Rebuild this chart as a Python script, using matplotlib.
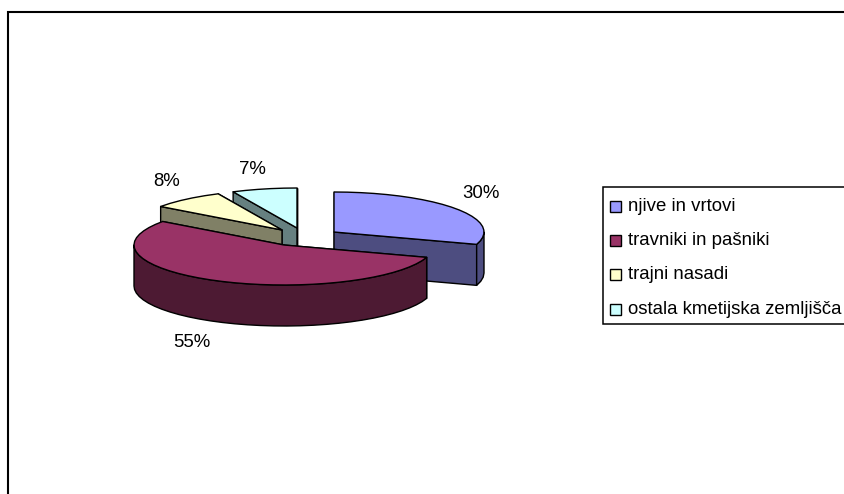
import numpy as np
import matplotlib
matplotlib.use('Agg')
import matplotlib.pyplot as plt
from matplotlib.patches import Polygon, Rectangle

plt.rcParams['font.family'] = ['Liberation Sans', 'DejaVu Sans']

categories = ['njive in vrtovi', 'travniki in pašniki', 'trajni nasadi', 'ostala kmetijska zemljišča']
values = [30, 55, 8, 7]
labels = ['30%', '55%', '8%', '7%']

top_colors = ['#9999ff', '#993366', '#ffffcc', '#ccffff']
side_colors = ['#4d4d80', '#4d1a33', '#808066', '#668080']

# pie layout in pixels
center = (300, 237)
rx, ry, depth = 150, 40, 41
offsets = [(34, -5), (-16, 8), (-18, -7), (-3, -9)]
label_pos = [(481, 193), (192, 342), (167, 181), (252, 169)]
draw_order = [3, 2, 0, 1]

W, H = 845, 494
fig = plt.figure(figsize=(W / 100, H / 100), dpi=100)
ax = fig.add_axes([0, 0, 1, 1])
ax.set_xlim(0, W)
ax.set_ylim(H, 0)
ax.axis('off')

# chart frame runs off the image on the right and bottom
ax.add_patch(Rectangle((8, 12), W, H, fc='white', ec='black', lw=1.5))


def rim(ox, oy, a0, a1):
    n = max(2, int(abs(a1 - a0) / 5) + 1)
    t = np.radians(np.linspace(a0, a1, n))
    return np.column_stack([ox + rx * np.sin(t), oy - ry * np.cos(t)])


fractions = np.array(values) / sum(values) * 360
starts = np.concatenate([[0], np.cumsum(fractions)[:-1]])

for i in draw_order:
    a0, a1 = starts[i], starts[i] + fractions[i]
    ox, oy = center[0] + offsets[i][0], center[1] + offsets[i][1]
    down = np.array([0, depth])
    edge_kw = dict(ec='black', lw=1.0, joinstyle='round')

    # radial side walls, far one first so the near one covers it
    for ang in sorted((a0, a1), key=lambda a: -np.cos(np.radians(a))):
        p = rim(ox, oy, ang, ang)[0]
        wall = np.array([[ox, oy], p, p + down, [ox, oy + depth]])
        ax.add_patch(Polygon(wall, fc=side_colors[i], **edge_kw))

    # outer wall, only the front half of the ellipse shows
    lo, hi = max(a0, 90), min(a1, 270)
    if hi > lo:
        arc = rim(ox, oy, lo, hi)
        ax.add_patch(Polygon(np.vstack([arc, (arc + down)[::-1]]), fc=side_colors[i], **edge_kw))

    # top face
    top = np.vstack([[ox, oy], rim(ox, oy, a0, a1)])
    ax.add_patch(Polygon(top, fc=top_colors[i], **edge_kw))

for lab, (x, y) in zip(labels, label_pos):
    ax.text(x, y, lab, fontsize=13.4, ha='center', va='center', color='black')

# legend box, also cut by the right edge
ax.add_patch(Rectangle((603, 187), W, 137, fc='white', ec='black', lw=1.1))
for k, name in enumerate(categories):
    y = 206 + k * 34.4
    ax.add_patch(Rectangle((610, y - 5.5), 11, 11, fc=top_colors[k], ec='black', lw=1.0))
    ax.text(628, y, name, fontsize=13.4, ha='left', va='center', color='black')

fig.savefig('out.png', dpi=100)
